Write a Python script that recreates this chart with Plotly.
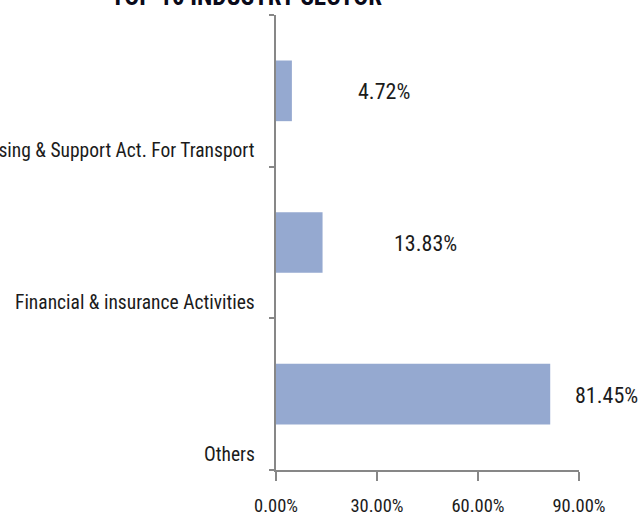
import plotly.graph_objects as go

# Sector shares (fraction of total), bottom-to-top order on the chart
sectors = [
    "Others",
    "Financial & insurance Activities",
    "Warehousing & Support Act. For Transport",
]
shares = [0.8145, 0.1383, 0.0472]

# Horizontal pixel offsets of the value labels from each bar's end
label_xshift = [56, 103, 92]

title_text = "TOP 10 INDUSTRY SECTOR"
x_tickvals = [0.0, 0.3, 0.6, 0.9]

FONT = "'Roboto Condensed', 'DejaVu Sans Condensed', sans-serif"
TEXT = "#1b1b1b"
AXIS = "#878787"
BAR = "#95a9d0"

fig = go.Figure(
    go.Bar(
        x=shares,
        y=sectors,
        orientation="h",
        width=0.4,
        marker=dict(color=BAR, line=dict(width=0)),
        hoverinfo="skip",
    )
)

annotations = []
# value labels
for s, v, dx in zip(sectors, shares, label_xshift):
    annotations.append(dict(
        x=v, y=s, xref="x", yref="y",
        text=f"{v * 100:.2f}%", showarrow=False,
        xanchor="center", yanchor="middle",
        xshift=dx, yshift=-1,
        font=dict(family=FONT, size=22, color=TEXT),
    ))
# category labels, sitting low in each band
for s in sectors:
    annotations.append(dict(
        x=0, y=s, xref="paper", yref="y",
        text=s, showarrow=False,
        xanchor="right", yanchor="middle",
        xshift=-19, yshift=-60,
        font=dict(family=FONT, size=19.5, color=TEXT),
    ))
# chart title, largely above the top edge
annotations.append(dict(
    x=(246 - 276) / 303, y=1, xref="paper", yref="paper",
    text=f"<b>{title_text}</b>", showarrow=False,
    xanchor="center", yanchor="bottom",
    yshift=2,
    font=dict(family=FONT, size=25, color="#0a0a1a"),
))

fig.update_layout(
    width=640,
    height=516,
    margin=dict(l=276, r=61, t=15, b=46),
    paper_bgcolor="white",
    plot_bgcolor="white",
    showlegend=False,
    bargap=0.6,
    annotations=annotations,
    xaxis=dict(
        range=[0, 0.9],
        tickvals=x_tickvals,
        tickformat=".2%",
        showgrid=False,
        zeroline=False,
        showline=True,
        linecolor=AXIS,
        linewidth=1.5,
        ticks="outside",
        ticklen=9,
        tickwidth=1.5,
        tickcolor=AXIS,
        ticklabelstandoff=9,
        automargin=False,
        tickfont=dict(family=FONT, size=18.5, color=TEXT),
    ),
    yaxis=dict(
        type="category",
        categoryorder="array",
        categoryarray=sectors,
        range=[-0.5, 2.5],
        showgrid=False,
        zeroline=False,
        showline=True,
        linecolor=AXIS,
        linewidth=1.5,
        ticks="outside",
        tickson="boundaries",
        ticklen=5,
        tickwidth=1.5,
        tickcolor=AXIS,
        showticklabels=False,
        automargin=False,
    ),
)

fig.write_html("out.html")
